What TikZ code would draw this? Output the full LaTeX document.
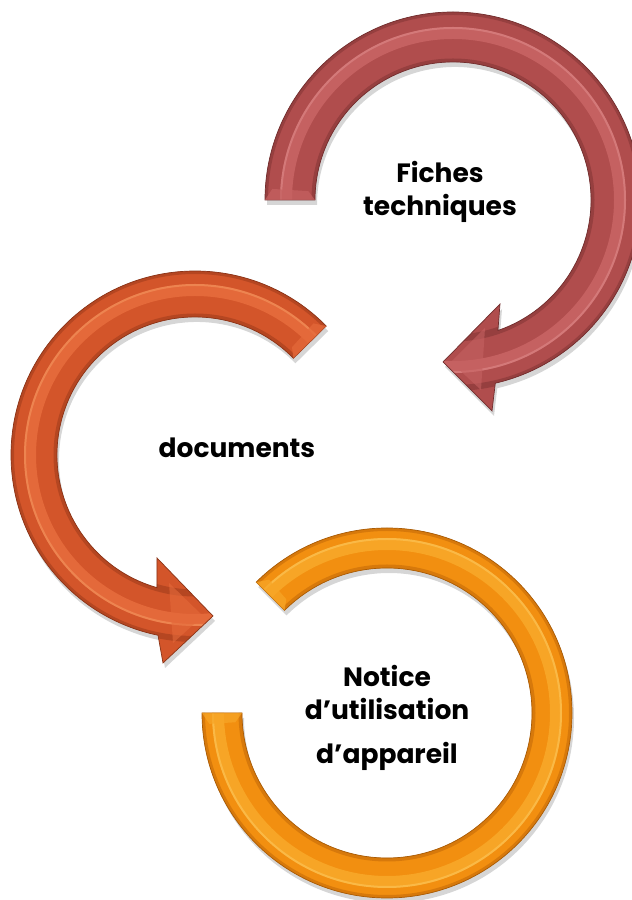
\documentclass[tikz,border=0pt]{standalone}
\usepackage{fontspec}
\setmainfont{Poppins}

% ring colours: base, lighter band, highlight line, dark rim
\definecolor{redbase}{HTML}{B04D4D}
\definecolor{redlight}{HTML}{C56161}
\definecolor{redhi}{HTML}{DE8A8A}
\definecolor{reddark}{HTML}{853636}
\definecolor{rustbase}{HTML}{D3552A}
\definecolor{rustlight}{HTML}{E4693A}
\definecolor{rusthi}{HTML}{F4965F}
\definecolor{rustdark}{HTML}{A23D1C}
\definecolor{amberbase}{HTML}{F28F10}
\definecolor{amberlight}{HTML}{F7A526}
\definecolor{amberhi}{HTML}{FCC75C}
\definecolor{amberdark}{HTML}{C66B08}

% outlines of the three curved bands, relative to their own centres
\newcommand{\redshape}{(180:188) arc[start angle=180,end angle=-77,radius=188]
  -- (39,-211) -- (-10,-162) -- (47,-104)
  -- (-71:138) arc[start angle=-71,end angle=180,radius=138] -- cycle}
\newcommand{\rustshape}{(44.5:184) arc[start angle=44.5,end angle=258.4,radius=184]
  -- (-32,-208) -- (18,-161) -- (-38,-103)
  -- (254:138) arc[start angle=254,end angle=44.5,radius=138] -- cycle}
\newcommand{\ambershape}{(180:185) arc[start angle=180,end angle=495,radius=185]
  -- (495:145) arc[start angle=495,end angle=180,radius=145] -- cycle}

% bevelled band: shadow, fill, concentric stripes, rim
\newcommand{\bevelband}[6]{% shape, base, light, hi, dark, inner/outer radii "rin/rout"
  \fill[black, opacity=.16, shift={(2,-5)}] #1;
  \fill[#2] #1;
  \begin{scope}
    \clip #1;
    \foreach \rin/\rout in {#6}{
      \pgfmathsetmacro{\rmid}{0.5*(\rin+\rout)+4}
      \pgfmathsetmacro{\rhi}{0.5*(\rin+\rout)+9}
      \draw[#3, line width=12] (0,0) circle (\rmid);
      \draw[#4, line width=2, opacity=.6] (0,0) circle (\rhi);
      \draw[#5, line width=7, opacity=.6] (0,0) circle (\rin);
      \draw[#5, line width=6, opacity=.6] (0,0) circle (\rout);
    }
  \end{scope}
  \draw[#5!85!black, line width=.7] #1;
}

% flat bevel face at a band end: colour, cut angle, angle a little inside, rin, rout
\newcommand{\cutface}[5]{%
  \pgfmathsetmacro{\facein}{#4+7}
  \pgfmathsetmacro{\faceout}{#5-7}
  \fill[#1, opacity=.75] (#2:#5) -- (#2:#4) -- (#3:\facein) -- (#3:\faceout) -- cycle;
}

\tikzset{
  lbl/.style={align=center, text=black,
    font=\fontsize{26.5}{33}\selectfont\bfseries, inner sep=0pt}
}

\begin{document}
\begin{tikzpicture}[x=1pt,y=1pt]
\useasboundingbox (0,0) rectangle (632,900);
\fill[white] (0,0) rectangle (632,900);

% upper ring with its head pointing down-left
\begin{scope}[shift={(453,700)}]
  \bevelband{\redshape}{redbase}{redlight}{redhi}{reddark}{138/188}
  \fill[redlight, opacity=.6] (28,-190) -- (-2,-162) -- (32,-128) -- cycle;
  \cutface{redlight}{180}{176.5}{138}{188}
\end{scope}

% middle ring with its head pointing right
\begin{scope}[shift={(195,445)}]
  \bevelband{\rustshape}{rustbase}{rustlight}{rusthi}{rustdark}{138/184}
  \fill[rustlight, opacity=.6] (-22,-188) -- (8,-161) -- (-26,-128) -- cycle;
  \cutface{rustlight}{44.5}{48}{138}{184}
\end{scope}

% lower open ring
\begin{scope}[shift={(387,187)}]
  \bevelband{\ambershape}{amberbase}{amberlight}{amberhi}{amberdark}{145/185}
  \cutface{amberlight}{180}{183.5}{145}{185}
  \cutface{amberlight}{495}{491.5}{145}{185}
\end{scope}

\node[lbl] (fiches) at (440,708) {Fiches\\techniques};
\node[lbl] (docs) at (237,452) {documents};
\node[lbl] (notice) at (387,182) {Notice\\d’utilisation\\[11pt]d’appareil};
\end{tikzpicture}
\end{document}
